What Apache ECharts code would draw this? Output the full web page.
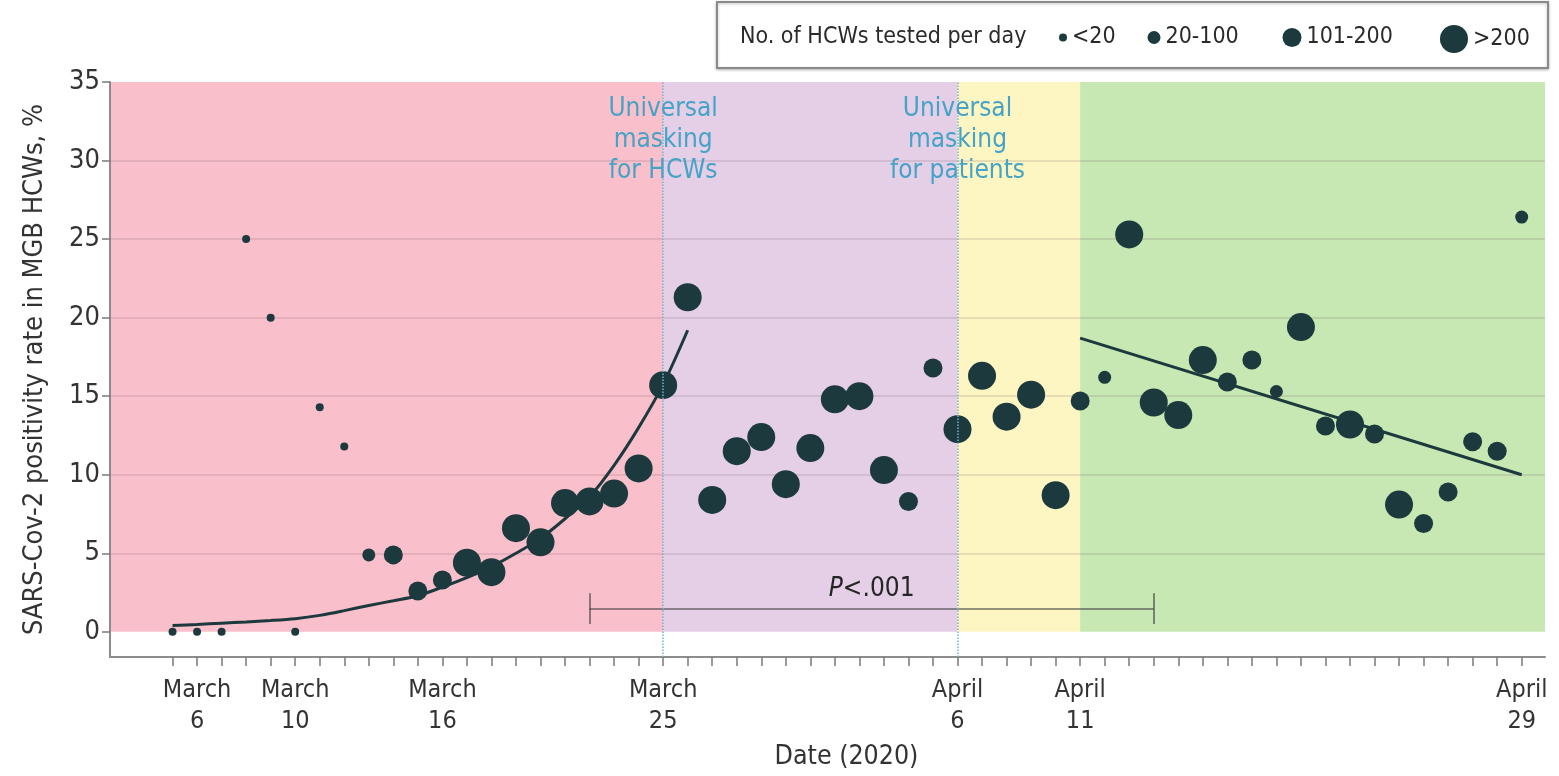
<!DOCTYPE html>
<html>
<head>
<meta charset="utf-8">
<script src="https://cdn.jsdelivr.net/npm/echarts@6/dist/echarts.min.js"></script>
<style>
  html, body { margin: 0; padding: 0; background: #ffffff; }
  #chart { width: 1559px; height: 776px; }
</style>
</head>
<body>
<div id="chart"></div>
<script>
// Day numbers: March d -> d, April d -> 31 + d
const days = [
  5, 6, 7, 8, 9, 10, 11, 12, 13, 14, 15, 16, 17, 18, 19, 20, 21, 22, 23, 24, 25, 26, 27, 28, 29, 30, 31,
  32, 33, 34, 35, 36, 37, 38, 39, 40, 41, 42, 43, 44, 45, 46, 47, 48, 49, 50, 51, 52, 53, 54, 55, 56, 57, 58, 59, 60
];
// SARS-CoV-2 positivity rate among HCWs, %
const rates = [
  0, 0, 0, 25.0, 20.0, 0, 14.3, 11.8, 4.9, 4.9, 2.6, 3.3, 4.4, 3.8, 6.6, 5.7, 8.2, 8.3, 8.8, 10.4, 15.7, 21.3, 8.4, 11.5, 12.4, 9.4, 11.7,
  14.8, 15.0, 10.3, 8.3, 16.8, 12.9, 16.3, 13.7, 15.1, 8.7, 14.7, 16.2, 25.3, 14.6, 13.8, 17.3, 15.9, 17.3, 15.3, 19.4, 13.1, 13.2, 12.6, 8.1, 6.9, 8.9, 12.1, 11.5, 26.4
];
// Number tested per day: 0 = <20, 1 = 20-100, 2 = 101-200, 3 = >200
const testedGroup = [
  0, 0, 0, 0, 0, 0, 0, 0, 1, 2, 2, 2, 3, 3, 3, 3, 3, 3, 3, 3, 3, 3, 3, 3, 3, 3, 3,
  3, 3, 3, 2, 2, 3, 3, 3, 3, 3, 2, 1, 3, 3, 3, 3, 2, 2, 1, 3, 2, 3, 2, 3, 2, 2, 2, 2, 1
];
const sizeGroups = ['<20', '20-100', '101-200', '>200'];

// Fitted trends
const marchTrendDays = [5, 6, 7, 8, 9, 10, 11, 12, 13, 14, 15, 16, 17, 18, 19, 20, 21, 22, 23, 24, 25, 26];
const marchTrendRates = [0.4, 0.47, 0.55, 0.63, 0.72, 0.84, 1.05, 1.35, 1.68, 1.98, 2.3, 2.85, 3.45, 4.15, 5.0, 5.95, 7.2, 8.6, 10.6, 13.0, 15.75, 19.2];
const aprilTrendDays = [42, 60];
const aprilTrendRates = [18.7, 10.0];

// Axis ticks
const tickDays = [6, 10, 16, 25, 37, 42, 60];
const tickLabels = ['March\n6', 'March\n10', 'March\n16', 'March\n25', 'April\n6', 'April\n11', 'April\n29'];
const minorTickDays = [5, 6, 7, 8, 9, 10, 11, 12, 13, 14, 15, 16, 17, 18, 19, 20, 21, 22, 23, 24, 25, 26, 27, 28, 29, 30, 31,
  32, 33, 34, 35, 36, 37, 38, 39, 40, 41, 42, 43, 44, 45, 46, 47, 48, 49, 50, 51, 52, 53, 54, 55, 56, 57, 58, 59, 60];
const rateTicks = [0, 5, 10, 15, 20, 25, 30, 35];

// Study periods and interventions
const periodStarts = [25, 37, 42];
const interventionDays = [25, 37];
const interventionLabels = ['Universal\nmasking\nfor HCWs', 'Universal\nmasking\nfor patients'];
const comparisonDays = [22, 45];
const comparisonText = 'P<.001';

const xMin = 2.45, xMax = 60.95, yMin = -1.6, yMax = 35;
const FONT = "'DejaVu Sans Condensed', 'DejaVu Sans', sans-serif";
const DOT = '#1c393d';
const dotSizes = [8, 13, 19, 28];
const periodColors = ['#f9bfcb', '#e4cfe6', '#fdf6c3', '#c7e7b3'];
const bounds = [xMin].concat(periodStarts, [xMax]);

const chart = echarts.init(document.getElementById('chart'), null, { renderer: 'canvas' });

const scatterSeries = sizeGroups.map((name, g) => ({
  type: 'scatter',
  name: name,
  z: 5,
  silent: true,
  symbolSize: dotSizes[g],
  itemStyle: { color: DOT, opacity: 1 },
  data: days.map((d, i) => [d, rates[i], testedGroup[i]])
    .filter(p => p[2] === g)
    .map(p => [p[0], p[1]])
}));

const legendLefts = [1059, 1147.5, 1282.5, 1440];

const option = {
  animation: false,
  textStyle: { fontFamily: FONT },
  grid: { left: 110, right: 14, top: 82, bottom: 118, containLabel: false },
  graphic: [
    {
      type: 'rect', z: 0,
      shape: { x: 717, y: 2, width: 831, height: 66 },
      style: { fill: '#ffffff', stroke: '#8a8a8a', lineWidth: 2,
               shadowBlur: 3, shadowColor: 'rgba(0,0,0,0.25)', shadowOffsetY: 1 }
    },
    {
      type: 'text', z: 1, x: 740, y: 37,
      style: { text: 'No. of HCWs tested per day', fontSize: 23, fontFamily: FONT,
               fill: '#2a2a2a', verticalAlign: 'middle', align: 'left' }
    }
  ],
  legend: sizeGroups.map((name, g) => ({
    data: [name],
    left: legendLefts[g],
    top: 39 - Math.max(dotSizes[g], 26) / 2,
    icon: 'circle',
    itemWidth: dotSizes[g],
    itemHeight: dotSizes[g],
    padding: 0,
    selectedMode: false,
    textStyle: { fontSize: 23, fontFamily: FONT, color: '#2a2a2a' }
  })),
  xAxis: {
    type: 'value',
    min: xMin, max: xMax,
    name: 'Date (2020)',
    nameLocation: 'middle',
    nameGap: 87,
    nameTextStyle: { fontSize: 26.5, fontFamily: FONT, color: '#333', padding: [0, 0, 0, 38] },
    axisLine: { show: true, onZero: false, lineStyle: { color: '#8c8c8c', width: 2 } },
    axisTick: { show: true, customValues: minorTickDays, length: 9, lineStyle: { color: '#7a7a7a', width: 1.5 } },
    axisLabel: {
      customValues: tickDays,
      formatter: v => tickLabels[tickDays.indexOf(v)] || '',
      fontSize: 25, lineHeight: 31, margin: 18, color: '#333', fontFamily: FONT
    },
    splitLine: { show: false }
  },
  yAxis: {
    type: 'value',
    min: yMin, max: yMax,
    name: 'SARS-Cov-2 positivity rate in MGB HCWs, %',
    nameLocation: 'middle',
    nameGap: 62,
    nameTextStyle: { fontSize: 27, fontFamily: FONT, color: '#333' },
    axisLine: { show: true, lineStyle: { color: '#8c8c8c', width: 2 } },
    axisTick: { show: true, customValues: rateTicks, length: 8, lineStyle: { color: '#7a7a7a', width: 1.5 } },
    axisLabel: { customValues: rateTicks, fontSize: 27, margin: 10, color: '#333', fontFamily: FONT },
    splitLine: { show: false }
  },
  series: [
    // Study period backgrounds and horizontal grid
    {
      type: 'line', name: 'periods', data: [], silent: true, z: 0,
      markArea: {
        silent: true, z: 0,
        data: periodColors.map((c, i) => [
          { xAxis: bounds[i], yAxis: 0, itemStyle: { color: c } },
          { xAxis: bounds[i + 1], yAxis: yMax }
        ])
      },
      markLine: {
        silent: true, z: 1, symbol: 'none', label: { show: false },
        lineStyle: { color: 'rgba(110,80,95,0.2)', width: 1.5, type: 'solid' },
        data: rateTicks.filter(v => v > 0 && v < yMax).map(v => ({ yAxis: v }))
      }
    },
    // Comparison bracket
    {
      type: 'line', name: 'comparison', data: [], silent: true, z: 2,
      markLine: {
        silent: true, z: 2, symbol: 'none', label: { show: false },
        lineStyle: { color: 'rgba(60,60,60,0.72)', width: 1.6, type: 'solid' },
        data: [
          [{ coord: [comparisonDays[0], 1.45] }, { coord: [comparisonDays[1], 1.45] }],
          [{ coord: [comparisonDays[0], 0.5] }, { coord: [comparisonDays[0], 2.45] }],
          [{ coord: [comparisonDays[1], 0.5] }, { coord: [comparisonDays[1], 2.45] }]
        ]
      },
      markPoint: {
        silent: true, z: 2, symbol: 'circle', symbolSize: 1,
        itemStyle: { color: 'rgba(0,0,0,0)' },
        label: {
          show: true, position: 'inside',
          formatter: '{i|P}{n|' + comparisonText.slice(1) + '}',
          rich: {
            i: { fontSize: 26, fontStyle: 'italic', color: '#252525', fontFamily: FONT },
            n: { fontSize: 26, color: '#252525', fontFamily: FONT }
          }
        },
        data: [{ coord: [33.5, 2.72] }]
      }
    },
    // Trend lines
    {
      type: 'line', name: 'March trend', silent: true, z: 3,
      data: marchTrendDays.map((d, i) => [d, marchTrendRates[i]]),
      smooth: 0.3, symbol: 'none',
      lineStyle: { color: DOT, width: 3 }
    },
    {
      type: 'line', name: 'April trend', silent: true, z: 3,
      data: aprilTrendDays.map((d, i) => [d, aprilTrendRates[i]]),
      symbol: 'none',
      lineStyle: { color: DOT, width: 3 }
    },
    ...scatterSeries,
    // Intervention markers and labels
    {
      type: 'line', name: 'interventions', data: [], silent: true, z: 8,
      markLine: {
        silent: true, z: 8, symbol: 'none', label: { show: false },
        lineStyle: { color: '#6db5d2', width: 1.5, type: 'dotted' },
        data: interventionDays.map(d => ({ xAxis: d }))
      },
      markPoint: {
        silent: true, z: 8, symbol: 'circle', symbolSize: 1,
        itemStyle: { color: 'rgba(0,0,0,0)' },
        label: {
          show: true, position: 'inside', align: 'center',
          fontSize: 26, lineHeight: 31, color: '#45a3c7', fontFamily: FONT
        },
        data: interventionDays.map((d, i) => ({
          coord: [d, 31.3],
          label: { formatter: interventionLabels[i] }
        }))
      }
    }
  ]
};

chart.setOption(option);
</script>
</body>
</html>
